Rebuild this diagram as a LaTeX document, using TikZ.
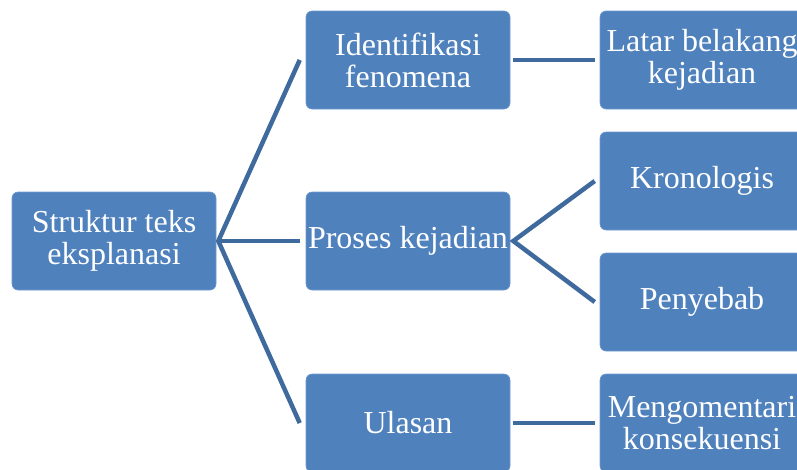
\documentclass[tikz,border=0pt]{standalone}
\usepackage{fontspec}
\setmainfont{Liberation Serif}
\usetikzlibrary{calc}
\definecolor{boxblue}{HTML}{4F81BD}
\definecolor{boxedge}{HTML}{6F9AD0}
\definecolor{linkblue}{HTML}{3F6A9E}
\tikzset{
  box/.style={rectangle, rounded corners=6pt, fill=boxblue, draw=boxedge, line width=0.6pt,
    minimum width=204pt, minimum height=98pt, inner sep=0pt, text=white, align=center,
    font=\fontsize{32}{32}\selectfont},
  link/.style={draw=linkblue, line width=4.5pt}
}
\begin{document}
\begin{tikzpicture}[x=1pt,y=-1pt]
\useasboundingbox (0,0) rectangle (797,469);
\clip (0,0) rectangle (797,469);
\fill[white] (0,0) rectangle (797,469);
\node[box] (root) at (114,241) {Struktur teks\\eksplanasi};
\node[box] (m1) at (408,60) {Identifikasi\\fenomena};
\node[box] (m2) at (408,241) {Proses kejadian};
\node[box] (m3) at (408,423) {Ulasan};
\node[box] (r1) at (702,60) {Latar belakang\\kejadian};
\node[box] (r2) at (702,181) {Kronologis};
\node[box] (r3) at (702,302) {Penyebab};
\node[box] (r4) at (702,423) {Mengomentari\\konsekuensi};
\coordinate (rootout) at ($(root.east)+(2,0)$);
\coordinate (m1in) at ($(m1.west)+(-6,0)$);
\coordinate (m2in) at ($(m2.west)+(-6,0)$);
\coordinate (m3in) at ($(m3.west)+(-6,0)$);
\coordinate (m1out) at ($(m1.east)+(3,0)$);
\coordinate (m2out) at ($(m2.east)+(3,0)$);
\coordinate (m3out) at ($(m3.east)+(3,0)$);
\coordinate (r1in) at ($(r1.west)+(-5,0)$);
\coordinate (r2in) at ($(r2.west)+(-5,0)$);
\coordinate (r3in) at ($(r3.west)+(-5,0)$);
\coordinate (r4in) at ($(r4.west)+(-5,0)$);
\draw[link] (m1in) -- (rootout) -- (m3in);
\draw[link] (rootout) -- (m2in);
\draw[link] (m1out) -- (r1in);
\draw[link] (r2in) -- (m2out) -- (r3in);
\draw[link] (m3out) -- (r4in);
\end{tikzpicture}
\end{document}
